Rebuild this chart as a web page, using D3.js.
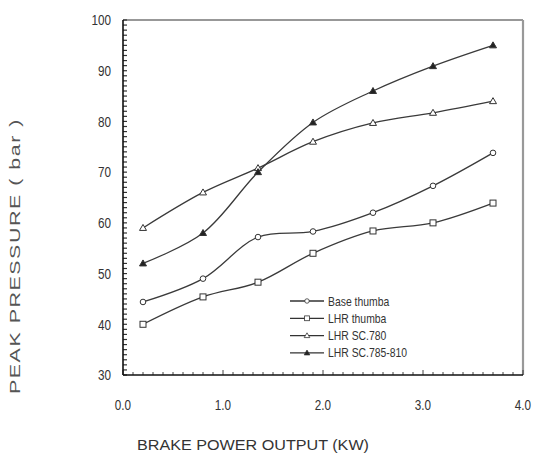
<!DOCTYPE html>
<html>
<head>
<meta charset="utf-8">
<script src="https://cdn.jsdelivr.net/npm/d3@7"></script>
<style>
  body { margin: 0; background: #fff; }
  text { font-family: "Liberation Sans", Arial, sans-serif; fill: #333; }
</style>
</head>
<body>
<svg class="chart"></svg>
<script>
var W = 535, H = 462;
var m = [20, 12, 87, 123],
  w = W - m[1] - m[3],
  h = H - m[0] - m[2];

// data
var power = [0.2, 0.8, 1.35, 1.9, 2.5, 3.1, 3.7];
var baseThumba = [44.4, 49, 57.2, 58.3, 62, 67.3, 73.8];
var lhrThumba = [40, 45.4, 48.3, 54, 58.4, 60, 63.9];
var lhrSC780 = [59, 66, 70.8, 76, 79.7, 81.7, 84];
var lhrSC785 = [52, 58, 70, 79.8, 86, 90.9, 95];
var names = ["Base thumba", "LHR thumba", "LHR SC.780", "LHR SC.785-810"];
var markers = ["circle", "square", "triangle", "triangleFilled"];
var yTicks = [30, 40, 50, 60, 70, 80, 90, 100];
var xTicks = [0, 1, 2, 3, 4];

var series = [baseThumba, lhrThumba, lhrSC780, lhrSC785].map(function(v, i) {
  return { name: names[i], marker: markers[i], values: v.map(function(d, j) { return [power[j], d]; }) };
});

var svg = d3.select(".chart").attr("width", W).attr("height", H);
var g = svg.append("g").attr("transform", "translate(" + m[3] + "," + m[0] + ")");

var x = d3.scaleLinear().domain([0, 4]).range([0, w]);
var y = d3.scaleLinear().domain([30, 100]).range([h, 0]);

// frame: top black, right grey
g.append("line").attr("x1", 0).attr("x2", w).attr("y1", 0).attr("y2", 0)
  .attr("stroke", "#333").attr("stroke-width", 1.2);
g.append("line").attr("x1", w).attr("x2", w).attr("y1", 0).attr("y2", h)
  .attr("stroke", "#999").attr("stroke-width", 2.2);

// minor ticks on y axis (every 1 bar)
g.append("g").selectAll("line").data(d3.range(30, 101, 1)).enter().append("line")
  .attr("x1", 0).attr("x2", 4).attr("y1", function(d) { return y(d); }).attr("y2", function(d) { return y(d); })
  .attr("stroke", "#333").attr("stroke-width", 1.2);
// minor ticks on x axis (every 0.1)
g.append("g").selectAll("line").data(d3.range(0, 40.5, 1).map(function(d) { return d / 10; })).enter().append("line")
  .attr("x1", function(d) { return x(d); }).attr("x2", function(d) { return x(d); })
  .attr("y1", h).attr("y2", function(d) { return d % 1 === 0 ? h - 5 : h - 3; })
  .attr("stroke", "#444").attr("stroke-width", 1);

// axes lines
g.append("line").attr("x1", 0).attr("x2", 0).attr("y1", 0).attr("y2", h).attr("stroke", "#111").attr("stroke-width", 1.6);
g.append("line").attr("x1", 0).attr("x2", w).attr("y1", h).attr("y2", h).attr("stroke", "#111").attr("stroke-width", 1.6);

// tick labels
g.append("g").selectAll("text").data(yTicks).enter().append("text")
  .attr("text-anchor", "end").style("font-size", "15px").attr("dy", "0.35em")
  .attr("transform", function(d) { return "translate(-12," + y(d) + ") scale(0.78,1)"; })
  .text(String);
g.append("g").selectAll("text").data(xTicks).enter().append("text")
  .attr("y", h + 35).attr("text-anchor", "middle").style("font-size", "15px")
  .attr("transform", function(d) { return "translate(" + x(d) + ",0) scale(0.78,1)"; })
  .text(function(d) { return d3.format(".1f")(d); });

// axis titles
svg.append("text").attr("x", 253).attr("y", 450).attr("text-anchor", "middle")
  .style("font-size", "15px").attr("textLength", 232).attr("lengthAdjust", "spacingAndGlyphs")
  .text("BRAKE POWER OUTPUT  (KW)");
svg.append("text").attr("transform", "translate(20,256) rotate(-90)").attr("text-anchor", "middle")
  .style("font-size", "14px").style("letter-spacing", "1px").style("fill", "#555")
  .attr("textLength", 276).attr("lengthAdjust", "spacingAndGlyphs")
  .text("PEAK PRESSURE  ( bar )");

var line = d3.line().curve(d3.curveCatmullRom.alpha(0.5))
  .x(function(d) { return x(d[0]); }).y(function(d) { return y(d[1]); });

function drawMarker(sel, type) {
  if (type === "circle") {
    sel.append("circle").attr("r", 2.8).attr("fill", "#fff").attr("stroke", "#333").attr("stroke-width", 1);
  } else if (type === "square") {
    sel.append("rect").attr("x", -3).attr("y", -3).attr("width", 6).attr("height", 6)
      .attr("fill", "#fff").attr("stroke", "#333").attr("stroke-width", 1);
  } else {
    sel.append("path").attr("d", "M0,-3.5L3.5,2.5L-3.5,2.5Z")
      .attr("fill", type === "triangleFilled" ? "#222" : "#fff").attr("stroke", "#333").attr("stroke-width", 1);
  }
}

series.forEach(function(s) {
  g.append("path").attr("d", line(s.values)).attr("fill", "none")
    .attr("stroke", "#3a3a3a").attr("stroke-width", 1.3);
  g.append("g").selectAll("g").data(s.values).enter().append("g")
    .attr("transform", function(d) { return "translate(" + x(d[0]) + "," + y(d[1]) + ")"; })
    .each(function() { drawMarker(d3.select(this), s.marker); });
});

// legend
var lg = svg.append("g").attr("transform", "translate(290,301)");
var item = lg.selectAll("g").data(series).enter().append("g")
  .attr("transform", function(d, i) { return "translate(0," + (i * 17.3) + ")"; });
item.append("line").attr("x1", 0).attr("x2", 34).attr("stroke", "#333").attr("stroke-width", 1.3);
item.append("g").attr("transform", "translate(17,0) scale(0.8)").each(function(d) { drawMarker(d3.select(this), d.marker); });
item.append("text").attr("dy", "0.35em").style("font-size", "13px")
  .attr("transform", "translate(38,0) scale(0.8,1)")
  .text(function(d) { return d.name; });
</script>
</body>
</html>
